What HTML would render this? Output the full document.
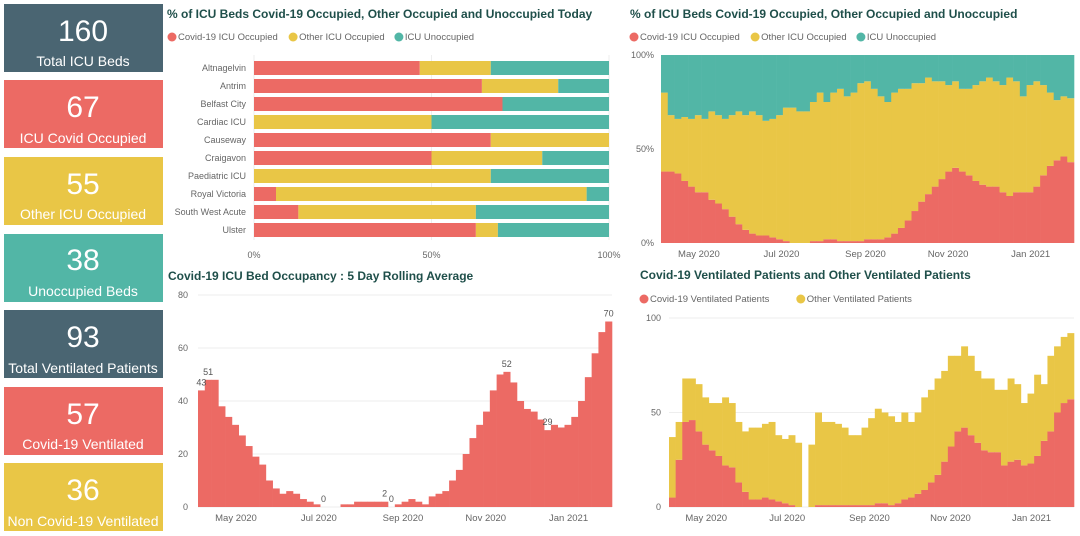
<!DOCTYPE html>
<html><head><meta charset="utf-8"><style>
body{margin:0;background:#fff;width:1080px;height:531px;overflow:hidden;font-family:"Liberation Sans",sans-serif}
svg text{font-family:"Liberation Sans",sans-serif}
</style></head><body>
<svg id="s" width="1080" height="531" xmlns="http://www.w3.org/2000/svg">
<g><rect x="4" y="4" width="159" height="68" fill="#4a6572"/><text x="83" y="41" fill="#fff" font-size="30" text-anchor="middle">160</text><text x="83" y="66" fill="#fff" font-size="14" text-anchor="middle">Total ICU Beds</text></g>
<g><rect x="4" y="80" width="159" height="68" fill="#ec6a64"/><text x="83" y="117" fill="#fff" font-size="30" text-anchor="middle">67</text><text x="83" y="143" fill="#fff" font-size="14" text-anchor="middle">ICU Covid Occupied</text></g>
<g><rect x="4" y="157" width="159" height="68" fill="#e9c646"/><text x="83" y="194" fill="#fff" font-size="30" text-anchor="middle">55</text><text x="83" y="219" fill="#fff" font-size="14" text-anchor="middle">Other ICU Occupied</text></g>
<g><rect x="4" y="234" width="159" height="68" fill="#52b6a6"/><text x="83" y="270" fill="#fff" font-size="30" text-anchor="middle">38</text><text x="83" y="296" fill="#fff" font-size="14" text-anchor="middle">Unoccupied Beds</text></g>
<g><rect x="4" y="310" width="159" height="68" fill="#4a6572"/><text x="83" y="347" fill="#fff" font-size="30" text-anchor="middle">93</text><text x="83" y="373" fill="#fff" font-size="14" text-anchor="middle">Total Ventilated Patients</text></g>
<g><rect x="4" y="387" width="159" height="68" fill="#ec6a64"/><text x="83" y="424" fill="#fff" font-size="30" text-anchor="middle">57</text><text x="83" y="449" fill="#fff" font-size="14" text-anchor="middle">Covid-19 Ventilated</text></g>
<g><rect x="4" y="463" width="159" height="68" fill="#e9c646"/><text x="83" y="500" fill="#fff" font-size="30" text-anchor="middle">36</text><text x="83" y="526" fill="#fff" font-size="14" text-anchor="middle">Non Covid-19 Ventilated</text></g>
<g id="c1"></g>
<g id="c2"></g>
<g id="c3"></g>
<g id="c4"></g>
</svg>
<script>
const hospitals=["Altnagelvin","Antrim","Belfast City","Cardiac ICU","Causeway","Craigavon","Paediatric ICU","Royal Victoria","South West Acute","Ulster"];
const hospCovid=[46.7,64.2,70,0,66.7,50,0,6.2,12.5,62.5];
const hospOther=[20,21.5,0,50,33.3,31.2,66.7,87.5,50,6.2];
const hospUnocc=[33.3,14.3,30,50,0,18.8,33.3,6.3,37.5,31.3];
const pctTicks=["0%","50%","100%"];
const monthLabels=["May 2020","Jul 2020","Sep 2020","Nov 2020","Jan 2021"];
const monthDays=[28,89,151,212,273]; // days from Apr 3 2020
const pctCovid=[38,38,37,33,30,27,27,23,21,18,14,10,7,5,4,4,3,2,1,0,0,0,1,1,2,2,1,1,1,1,2,2,2,3,5,8,12,17,22,26,30,34,38,40,38,36,33,31,30,30,27,25,27,27,27,30,36,41,44,46,43];
const pctOccupied=[80,68,66,67,66,68,66,70,68,66,68,70,68,70,68,65,66,68,72,72,70,70,75,80,75,80,82,78,80,85,86,82,78,75,80,82,82,85,85,88,86,86,84,86,82,82,84,86,88,86,84,88,86,78,84,86,84,80,76,78,77];
const rollAvg=[44,48,48,38,34,31,27,23,19,16,10,7,5,6,5,3,2,1,0,0,0,1,1,2,2,2,2,2,0,1,2,3,2,1,4,5,6,10,14,20,26,31,36,44,50,51,47,40,37,36,33,29,31,30,31,34,40,49,58,66,70];
const rollLabels=[[0,"43"],[1,"51"],[18,"0"],[27,"2"],[28,"0"],[45,"52"],[51,"29"],[60,"70"]];
const rollTicks=[0,20,40,60,80];
const ventCovid=[5,25,45,46,40,33,30,27,22,21,13,8,4,4,5,4,3,2,1,0,0,0,1,1,1,1,1,1,1,1,1,2,2,1,2,4,5,7,9,13,17,24,32,40,42,38,34,30,29,29,22,24,25,22,23,27,35,40,50,55,57];
const ventTotal=[37,45,68,68,65,58,55,55,58,55,45,40,42,42,44,45,38,36,38,34,0,33,50,45,45,44,42,38,38,42,47,52,50,48,45,50,45,50,58,62,68,72,80,80,85,80,72,68,68,62,62,68,65,55,60,70,65,80,85,90,92];
const ventTicks=[0,50,100];
const BUCKET_DAYS=5, TOTAL_DAYS=305;
const RED="#ec6a64",YEL="#e9c646",TEAL="#52b6a6",TXT="#666",TITLE="#1f4f4a";
const NS="http://www.w3.org/2000/svg";
function el(p,tag,a,txt){const e=document.createElementNS(NS,tag);for(const k in a)e.setAttribute(k,a[k]);if(txt!==undefined)e.textContent=txt;p.appendChild(e);return e;}
function title(p,x,y,t){const e=el(p,"text",{x:x,y:y,"font-size":12,"font-weight":"bold",fill:TITLE},t);

}
function legend(p,x,y,items){let cx=x;items.forEach(([c,t])=>{const g=el(p,"g",{});


el(g,"circle",{cx:cx+4,cy:y-3,r:4.5,fill:c});el(g,"text",{x:cx+10,y:y,"font-size":9.5,fill:TXT},t);cx+=14+t.length*5.1;});}
// chart 1
(function(){const p=document.getElementById("c1");title(p,167,18,"% of ICU Beds Covid-19 Occupied, Other Occupied and Unoccupied Today");
legend(p,168,40,[[RED,"Covid-19 ICU Occupied"],[YEL,"Other ICU Occupied"],[TEAL,"ICU Unoccupied"]]);
const x0=254,x1=609,sx=v=>x0+(x1-x0)*v/100;
[0,50,100].forEach((v,i)=>{el(p,"line",{x1:sx(v),x2:sx(v),y1:55,y2:240,stroke:"#eee"});const t=el(p,"text",{x:sx(v),y:258,"font-size":9,fill:TXT,"text-anchor":"middle"},pctTicks[i]);

});
hospitals.forEach((h,i)=>{const cy=68+i*18;const t=el(p,"text",{x:246,y:cy+3,"font-size":9,fill:TXT,"text-anchor":"end"},h);


let acc=0;[[hospCovid[i],RED],[hospOther[i],YEL],[hospUnocc[i],TEAL]].forEach(([v,c])=>{if(v>0){const r=el(p,"rect",{x:sx(acc),y:cy-7,width:sx(acc+v)-sx(acc),height:14,fill:c});

}acc+=v;});});})();
function timeX(x0,x1,d){return x0+(x1-x0)*d/TOTAL_DAYS;}
function months(p,x0,x1,y){monthLabels.forEach((m,i)=>{const t=el(p,"text",{x:timeX(x0,x1,monthDays[i]),y:y,"font-size":9.5,fill:TXT,"text-anchor":"middle"},m);

});}
// chart 2
(function(){const p=document.getElementById("c2");title(p,630,18,"% of ICU Beds Covid-19 Occupied, Other Occupied and Unoccupied");
legend(p,630,40,[[RED,"Covid-19 ICU Occupied"],[YEL,"Other ICU Occupied"],[TEAL,"ICU Unoccupied"]]);
const x0=661,x1=1074,y0=243,yT=55,sy=v=>y0-(y0-yT)*v/100;
[0,50,100].forEach((v,i)=>{const t=el(p,"text",{x:654,y:sy(v)+3,"font-size":9,fill:TXT,"text-anchor":"end"},pctTicks[i]);

});
const n=pctCovid.length,bw=(x1-x0)/n;
for(let i=0;i<n;i++){const x=x0+i*bw;
[[0,pctCovid[i],RED],[pctCovid[i],pctOccupied[i],YEL],[pctOccupied[i],100,TEAL]].forEach(([a,b,c])=>{const r=el(p,"rect",{x:x,y:sy(b),width:bw+0.3,height:sy(a)-sy(b),fill:c});

});}
months(p,x0,x1,257);})();
// chart 3
(function(){const p=document.getElementById("c3");title(p,168,280,"Covid-19 ICU Bed Occupancy : 5 Day Rolling Average");
const x0=198,x1=612,y0=507,yT=295,sy=v=>y0-(y0-yT)*v/80;
rollTicks.forEach(v=>{el(p,"line",{x1:x0,x2:x1,y1:sy(v),y2:sy(v),stroke:"#eee"});const t=el(p,"text",{x:188,y:sy(v)+3,"font-size":9,fill:TXT,"text-anchor":"end"},v);

});
const n=rollAvg.length,bw=(x1-x0)/n;
rollAvg.forEach((v,i)=>{const r=el(p,"rect",{x:x0+i*bw,y:sy(v),width:bw+0.3,height:y0-sy(v),fill:RED});

});
rollLabels.forEach(([i,t])=>{const e=el(p,"text",{x:x0+i*bw+bw/2,y:sy(rollAvg[i])-5,"font-size":9,fill:"#555","text-anchor":"middle"},t);

});
months(p,x0,x1,521);})();
// chart 4
(function(){const p=document.getElementById("c4");title(p,640,279,"Covid-19 Ventilated Patients and Other Ventilated Patients");
legend(p,640,302,[[RED,"Covid-19 Ventilated Patients"],[YEL,"Other Ventilated Patients"]]);
const x0=669,x1=1074,y0=507,yT=318,sy=v=>y0-(y0-yT)*v/100;
ventTicks.forEach(v=>{el(p,"line",{x1:x0,x2:x1,y1:sy(v),y2:sy(v),stroke:"#eee"});const t=el(p,"text",{x:661,y:sy(v)+3,"font-size":9,fill:TXT,"text-anchor":"end"},v);

});
const n=ventCovid.length,bw=(x1-x0)/n;
for(let i=0;i<n;i++){const x=x0+i*bw;
const a=el(p,"rect",{x:x,y:sy(ventCovid[i]),width:bw+0.3,height:y0-sy(ventCovid[i]),fill:RED});


const tot=Math.max(ventTotal[i],ventCovid[i]);
const b=el(p,"rect",{x:x,y:sy(tot),width:bw+0.3,height:sy(ventCovid[i])-sy(tot),fill:YEL});

}
months(p,x0,x1,521);})();
</script>
</body></html>
